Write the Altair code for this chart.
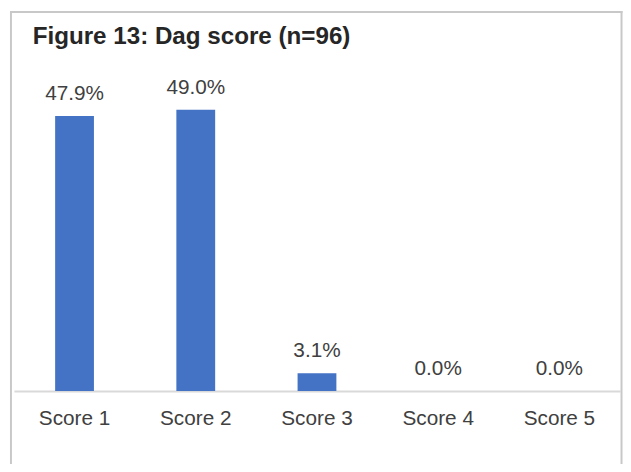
import altair as alt
import pandas as pd

categories = ["Score 1", "Score 2", "Score 3", "Score 4", "Score 5"]
values = [47.9, 49.0, 3.1, 0.0, 0.0]
title_text = "Figure 13: Dag score (n=96)"

df = pd.DataFrame({"category": categories, "value": values})

FONT = "Liberation Sans"

x_enc = alt.X(
    "category:N",
    sort=categories,
    scale=alt.Scale(paddingInner=0.68, paddingOuter=0.34),
    axis=alt.Axis(
        title=None,
        labelAngle=0,
        ticks=False,
        tickSize=0,
        labelPadding=17,
        labelFontSize=21,
        labelFont=FONT,
        labelColor="#404040",
        domainColor="#d9d9d9",
        domainWidth=2,
        grid=False,
    ),
)
y_enc = alt.Y("value:Q", scale=alt.Scale(domain=[0, 60]), axis=None)

base = alt.Chart(df).encode(x=x_enc, y=y_enc)

bars = base.mark_bar(color="#4472C4")
labels = base.transform_calculate(
    lab="format(datum.value, '.1f') + '%'"
).mark_text(
    dy=-16, baseline="alphabetic", fontSize=21, font=FONT, color="#404040"
).encode(text="lab:N")

one_row = pd.DataFrame({"t": [title_text]})
title_mark = alt.Chart(one_row).mark_text(
    align="left", baseline="alphabetic", fontSize=24.5, fontWeight="bold",
    font=FONT, color="#262626"
).encode(x=alt.value(19), y=alt.value(-2), text="t:N")

frame_color = "#c8c8c8"
left_edge = alt.Chart(one_row).mark_rule(color=frame_color, strokeWidth=2).encode(
    x=alt.value(-3), y=alt.value(-36), y2=alt.value(480)
)
right_edge = alt.Chart(one_row).mark_rule(color=frame_color, strokeWidth=2).encode(
    x=alt.value(615.5), y=alt.value(-36), y2=alt.value(480)
)
top_edge = alt.Chart(one_row).mark_rule(color=frame_color, strokeWidth=2).encode(
    x=alt.value(-4), x2=alt.value(616.5), y=alt.value(-35)
)

chart = alt.layer(bars, labels, title_mark, left_edge, right_edge, top_edge).properties(
    width=614,
    height=349,
    autosize=alt.AutoSizeParams(type="none"),
    padding={"left": 6, "top": 36, "right": 3, "bottom": 71},
).configure(
    background="white",
    view=alt.ViewConfig(stroke="transparent", strokeWidth=0),
)

chart.save("out.html", embed_options={"renderer": "svg", "actions": False})
